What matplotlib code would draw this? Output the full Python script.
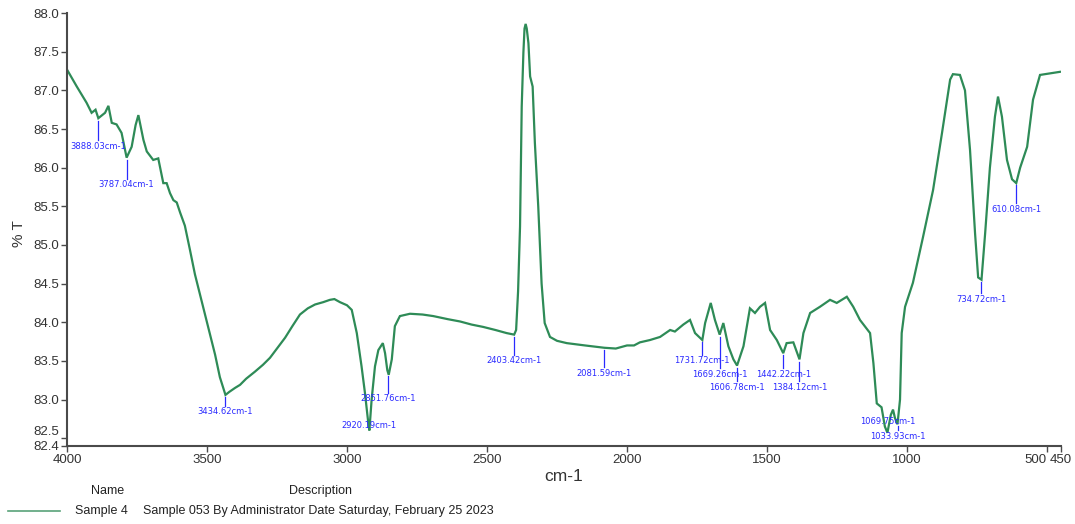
"""FTIR spectrum of Sample 4 (transmittance vs wavenumber)."""

import matplotlib

matplotlib.use("Agg")  # headless
import matplotlib.pyplot as plt
from matplotlib.lines import Line2D
import numpy as np

# wavenumber (cm-1) from left to right
WAVENUMBER = [
    4000, 3965, 3930, 3912, 3898, 3888, 3864, 3852, 3840, 3823, 3805, 3787,
    3769, 3755, 3745, 3735, 3727, 3715, 3692, 3674, 3656, 3644, 3632, 3620,
    3608, 3596, 3579, 3561, 3543, 3525, 3507, 3489, 3471, 3454, 3434, 3420,
    3400, 3382, 3360, 3329, 3300, 3275, 3250, 3221, 3195, 3168, 3140, 3114,
    3085, 3061, 3045, 3025, 3000, 2983, 2965, 2948, 2936, 2924, 2920, 2912,
    2900, 2888, 2872, 2864, 2856, 2851, 2840, 2829, 2811, 2775, 2730, 2692,
    2640, 2596, 2555, 2514, 2470, 2430, 2403, 2396, 2389, 2382, 2376, 2370,
    2366, 2362, 2358, 2352, 2346, 2337, 2329, 2317, 2305, 2294, 2275, 2250,
    2215, 2150, 2081, 2040, 2000, 1975, 1954, 1918, 1882, 1846, 1829, 1799,
    1775, 1757, 1731, 1721, 1701, 1686, 1669, 1656, 1638, 1620, 1607, 1584,
    1561, 1543, 1525, 1507, 1489, 1465, 1442, 1430, 1406, 1384, 1370, 1346,
    1311, 1275, 1251, 1215, 1192, 1168, 1132, 1120, 1108, 1091, 1079, 1070,
    1058, 1050, 1043, 1034, 1025, 1019, 1007, 979, 943, 907, 875, 846,
    836, 811, 793, 775, 757, 746, 734, 721, 704, 686, 675, 661,
    643, 625, 610, 596, 571, 550, 525, 489, 454,
]

# transmittance (%T) at each wavenumber above
TRANSMITTANCE = [
    87.27, 87.05, 86.84, 86.71, 86.75, 86.64, 86.71, 86.80, 86.58, 86.56, 86.45, 86.13,
    86.27, 86.55, 86.68, 86.50, 86.36, 86.21, 86.10, 86.12, 85.80, 85.80, 85.67, 85.58,
    85.55, 85.42, 85.25, 84.94, 84.62, 84.36, 84.10, 83.84, 83.58, 83.29, 83.06, 83.10,
    83.15, 83.19, 83.27, 83.36, 83.45, 83.54, 83.66, 83.80, 83.95, 84.10, 84.18, 84.23,
    84.26, 84.29, 84.30, 84.26, 84.22, 84.16, 83.86, 83.43, 83.09, 82.70, 82.60, 83.00,
    83.43, 83.64, 83.73, 83.60, 83.38, 83.32, 83.52, 83.95, 84.08, 84.11, 84.10, 84.08,
    84.04, 84.01, 83.97, 83.94, 83.90, 83.86, 83.84, 83.90, 84.40, 85.24, 86.79, 87.49,
    87.80, 87.86, 87.80, 87.61, 87.18, 87.05, 86.32, 85.50, 84.50, 83.99, 83.81, 83.76,
    83.73, 83.70, 83.67, 83.66, 83.70, 83.70, 83.74, 83.77, 83.81, 83.90, 83.88, 83.97,
    84.03, 83.86, 83.77, 83.99, 84.25, 84.03, 83.84, 83.99, 83.69, 83.52, 83.44, 83.69,
    84.18, 84.12, 84.20, 84.25, 83.90, 83.77, 83.60, 83.73, 83.74, 83.52, 83.86, 84.12,
    84.20, 84.29, 84.25, 84.33, 84.20, 84.03, 83.86, 83.47, 82.95, 82.90, 82.65, 82.57,
    82.80, 82.87, 82.76, 82.68, 83.00, 83.86, 84.20, 84.51, 85.10, 85.71, 86.45, 87.14,
    87.21, 87.20, 87.00, 86.23, 85.15, 84.58, 84.55, 85.15, 86.00, 86.66, 86.92, 86.66,
    86.10, 85.85, 85.80, 86.00, 86.27, 86.88, 87.20, 87.22, 87.24,
]

# picked peaks and the %T height at which their labels sit
PEAK_WAVENUMBER = [3888.03, 3787.04, 3434.62, 2920.19, 2851.76, 2403.42, 2081.59,
                   1731.72, 1669.26, 1606.78, 1442.22, 1384.12, 1069.75, 1033.93,
                   734.72, 610.08]
PEAK_LABEL_Y = [86.28, 85.78, 82.84, 82.67, 83.01, 83.50, 83.34,
                83.50, 83.33, 83.16, 83.33, 83.16, 82.71, 82.52,
                84.30, 85.46]

Y_TICKS = [82.4, 82.5, 83.0, 83.5, 84.0, 84.5, 85.0, 85.5, 86.0, 86.5, 87.0, 87.5, 88.0]
X_TICKS = [4000, 3500, 3000, 2500, 2000, 1500, 1000, 500, 450]

SAMPLE_NAME = "Sample 4"
SAMPLE_DESC = "Sample 053 By Administrator Date Saturday, February 25 2023"

LINE_COLOR = "#2e8b57"
PEAK_COLOR = "#2a2aff"
AXIS_COLOR = "#4a4a4a"
TEXT_COLOR = "#333333"

plt.rcParams["font.family"] = ["Liberation Sans", "DejaVu Sans"]

fig = plt.figure(figsize=(10.75, 5.24), dpi=100)
ax = fig.add_axes([0.0623, 0.149, 0.9247, 0.826])

wn = np.array(WAVENUMBER, dtype=float)
tr = np.array(TRANSMITTANCE, dtype=float)
ax.plot(wn, tr, color=LINE_COLOR, lw=1.6, solid_joinstyle="miter")

# peak markers: short vertical tick under the trace, label centred below
for peak, ly in zip(PEAK_WAVENUMBER, PEAK_LABEL_Y):
    cy = np.interp(peak, wn[::-1], tr[::-1])
    if cy - ly > 0.12:
        ax.plot([peak, peak], [cy - 0.03, ly + 0.08], color=PEAK_COLOR, lw=0.9)
    ax.text(peak, ly, f"{peak:.2f}cm-1", color=PEAK_COLOR, fontsize=6,
            ha="center", va="center", family=["DejaVu Sans"])

ax.set_xlim(4000, 450)
ax.set_ylim(82.4, 88.0)
ax.set_xticks(X_TICKS)
ax.set_xticklabels([str(t) for t in X_TICKS])
ax.set_yticks(Y_TICKS)
ax.set_yticklabels([f"{t:.1f}" for t in Y_TICKS])
ax.get_xticklabels()[-2].set_ha("right")
ax.get_yticklabels()[1].set_va("bottom")  # 82.5 sits just above 82.4

for side in ("top", "right"):
    ax.spines[side].set_visible(False)
for side in ("left", "bottom"):
    ax.spines[side].set_color(AXIS_COLOR)
    ax.spines[side].set_linewidth(1.5)
ax.tick_params(colors=AXIS_COLOR, labelcolor=TEXT_COLOR, labelsize=9.5,
               length=4, width=1, direction="out", pad=2)

ax.set_xlabel("cm-1", fontsize=12.5, color=TEXT_COLOR, labelpad=2)
ax.set_ylabel("% T", fontsize=11, color=TEXT_COLOR)
ax.yaxis.set_label_coords(-0.041, 0.49)

# sample table under the plot
fig.text(108 / 1075, 1 - 491 / 524, "Name", fontsize=9, color="#222222",
         ha="center", va="center")
fig.text(321 / 1075, 1 - 491 / 524, "Description", fontsize=9, color="#222222",
         ha="center", va="center")
fig.add_artist(Line2D([8 / 1075, 60 / 1075], [1 - 511 / 524, 1 - 511 / 524],
                      color=LINE_COLOR, lw=1.2, alpha=0.8))
fig.text(75 / 1075, 1 - 511 / 524, SAMPLE_NAME, fontsize=9, color="#222222",
         ha="left", va="center")
fig.text(143 / 1075, 1 - 511 / 524, SAMPLE_DESC, fontsize=9, color="#222222",
         ha="left", va="center")

fig.savefig("out.png", dpi=100)
plt.close(fig)
